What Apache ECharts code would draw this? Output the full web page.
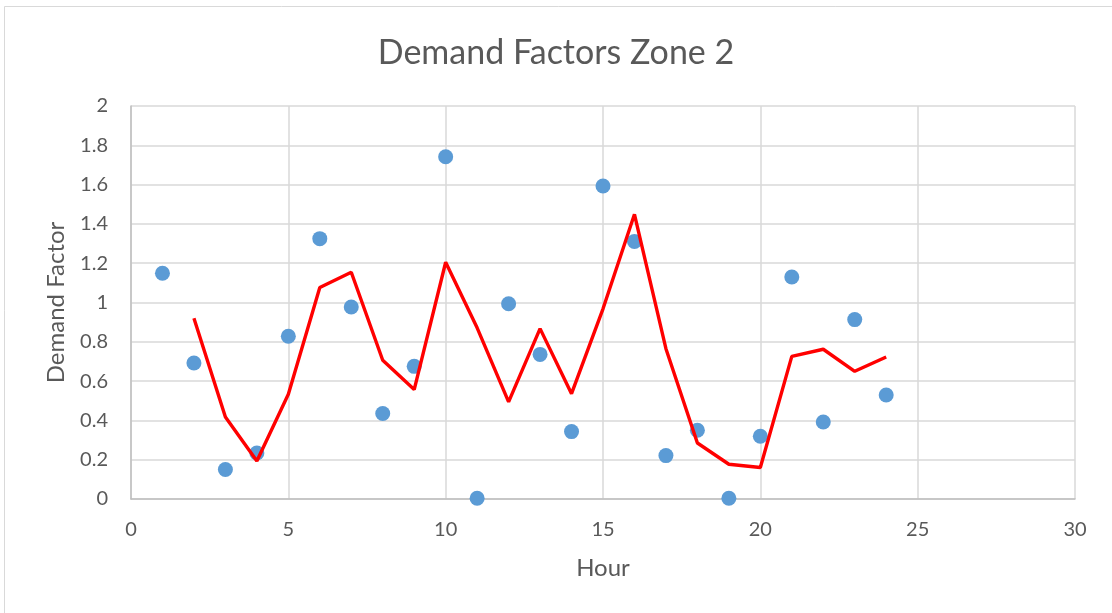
<!DOCTYPE html>
<html>
<head>
<meta charset="utf-8">
<script src="https://cdn.jsdelivr.net/npm/echarts@6/dist/echarts.min.js"></script>
<style>
html,body{margin:0;padding:0;background:#fff;}
#c{width:1112px;height:613px;}
</style>
</head>
<body>
<div id="c"></div>
<script>
const hours = [1,2,3,4,5,6,7,8,9,10,11,12,13,14,15,16,17,18,19,20,21,22,23,24];
const demand = [1.149,0.692,0.150,0.234,0.828,1.325,0.977,0.435,0.675,1.742,0.004,0.994,0.736,0.343,1.593,1.311,0.221,0.350,0.004,0.319,1.130,0.392,0.913,0.529];
const maHours = [2,3,4,5,6,7,8,9,10,11,12,13,14,15,16,17,18,19,20,21,22,23,24];
const maValues = [0.920,0.417,0.193,0.533,1.076,1.154,0.706,0.557,1.205,0.871,0.494,0.867,0.536,0.968,1.449,0.765,0.285,0.177,0.160,0.726,0.762,0.650,0.723];
const titleText = 'Demand Factors Zone 2';
const xName = 'Hour';
const yName = 'Demand Factor';

const FONT = 'Lato';
const TXT = '#595959';
const chart = echarts.init(document.getElementById('c'), null, {renderer:'canvas'});
chart.setOption({
  animation:false,
  backgroundColor:'#fff',
  graphic:[{type:'rect', shape:{x:4.5,y:6.5,width:1130,height:640}, style:{fill:'none', stroke:'#d9d9d9', lineWidth:1}, silent:true, z:-1}],
  title:{text:titleText, left:'center', top:31, textStyle:{fontFamily:FONT, fontSize:34, fontWeight:'normal', color:TXT}},
  grid:{left:131, right:37, top:106, bottom:114},
  xAxis:{type:'value', min:0, max:30, interval:5,
    name:xName, nameLocation:'middle', nameGap:57,
    nameTextStyle:{fontFamily:FONT, fontSize:24, color:TXT},
    axisLine:{show:true, onZero:false, lineStyle:{color:'#bfbfbf', width:1.5}},
    axisTick:{show:false},
    axisLabel:{fontFamily:FONT, fontSize:20, color:TXT, margin:21},
    splitLine:{show:true, lineStyle:{color:'#d9d9d9', width:1.5}}},
  yAxis:{type:'value', min:0, max:2, interval:0.2,
    name:yName, nameLocation:'middle', nameGap:63, nameRotate:90,
    nameTextStyle:{fontFamily:FONT, fontSize:24, color:TXT},
    axisLine:{show:true, lineStyle:{color:'#bfbfbf', width:1.5}},
    axisTick:{show:false},
    axisLabel:{fontFamily:FONT, fontSize:20, color:TXT, margin:23},
    splitLine:{show:true, lineStyle:{color:'#d9d9d9', width:1.5}}},
  series:[
    {type:'scatter', data:hours.map((h,i)=>[h,demand[i]]), symbolSize:15, itemStyle:{color:'#5b9bd5', opacity:1}, z:2},
    {type:'line', data:maHours.map((h,i)=>[h,maValues[i]]), symbol:'none', lineStyle:{color:'#ff0000', width:3.4}, z:3}
  ]
});
</script>
</body>
</html>
